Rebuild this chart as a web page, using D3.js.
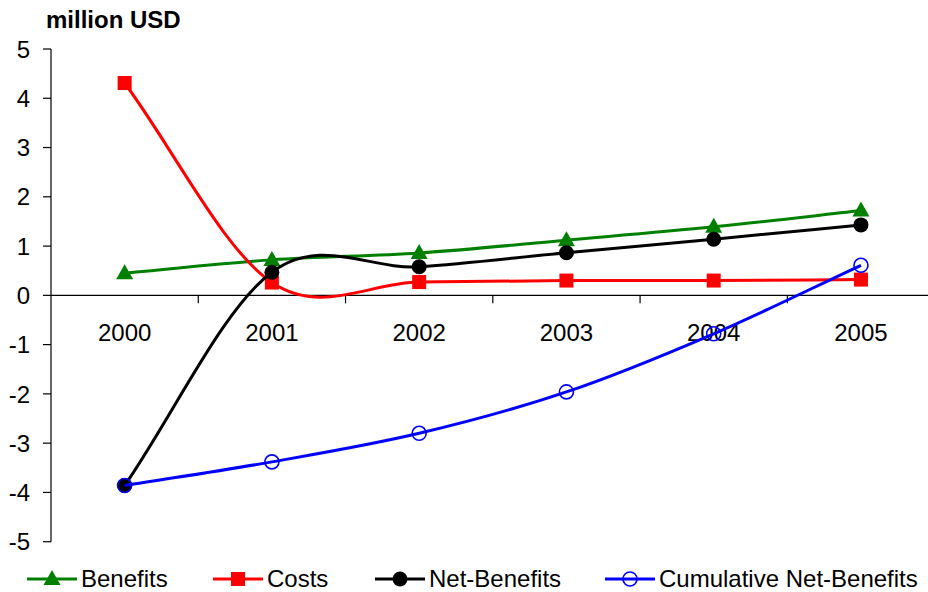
<!DOCTYPE html>
<html>
<head>
<meta charset="utf-8">
<script src="https://cdn.jsdelivr.net/npm/d3@7"></script>
<style>
  html, body { margin: 0; padding: 0; background: #fff; }
  svg { display: block; font-family: "Liberation Sans", Arial, sans-serif; }
</style>
</head>
<body>
<svg id="chart" width="928" height="592"></svg>
<script>
// Annual figures, million USD
const years = ["2000", "2001", "2002", "2003", "2004", "2005"];
const benefits = [0.45, 0.72, 0.86, 1.12, 1.39, 1.72];
const costs = [4.31, 0.26, 0.27, 0.30, 0.30, 0.32];
const netBenefits = [-3.86, 0.47, 0.58, 0.865, 1.14, 1.43];
const cumulativeNet = [-3.86, -3.38, -2.80, -1.96, -0.78, 0.61];
const yTicks = [5, 4, 3, 2, 1, 0, -1, -2, -3, -4, -5];
const unitLabel = "million USD";

const series = [
  { name: "Benefits", values: benefits, color: "#008000", marker: "triangle" },
  { name: "Costs", values: costs, color: "#ff0000", marker: "square" },
  { name: "Net-Benefits", values: netBenefits, color: "#000000", marker: "circle" },
  { name: "Cumulative Net-Benefits", values: cumulativeNet, color: "#0000ff", marker: "open" }
];

// Smoothed line curve: Bezier segments with central-difference tangents
// inside the series and one-sided tangents at both ends.
function SmoothCurve(context) { this._context = context; }
SmoothCurve.prototype = {
  areaStart() { this._line = 0; },
  areaEnd() { this._line = NaN; },
  lineStart() { this._pts = []; },
  point(px, py) { this._pts.push([+px, +py]); },
  lineEnd() {
    const p = this._pts, n = p.length, ctx = this._context;
    if (!n) return;
    ctx.moveTo(p[0][0], p[0][1]);
    if (n === 1) return;
    const tan = p.map((_, i) => {
      const a = p[Math.max(0, i - 1)], b = p[Math.min(n - 1, i + 1)];
      const k = (i === 0 || i === n - 1) ? 1 : 0.5;
      return [(b[0] - a[0]) * k, (b[1] - a[1]) * k];
    });
    for (let i = 0; i < n - 1; i++) {
      ctx.bezierCurveTo(
        p[i][0] + tan[i][0] / 3, p[i][1] + tan[i][1] / 3,
        p[i + 1][0] - tan[i + 1][0] / 3, p[i + 1][1] - tan[i + 1][1] / 3,
        p[i + 1][0], p[i + 1][1]);
    }
  }
};
const curveSmooth = context => new SmoothCurve(context);

const svg = d3.select("#chart");
const plot = { left: 51, right: 934.6, top: 49, bottom: 541.7 };

const x = d3.scaleBand().domain(years).range([plot.left, plot.right]).padding(0);
const y = d3.scaleLinear().domain([-5, 5]).range([plot.bottom, plot.top]);
const cx = d => x(d) + x.bandwidth() / 2;

// Unit caption
svg.append("text")
  .attr("x", 46).attr("y", 28)
  .attr("font-size", 24).attr("font-weight", "bold")
  .text(unitLabel);

// Value axis
const yAxis = svg.append("g");
yAxis.append("line")
  .attr("x1", plot.left).attr("x2", plot.left)
  .attr("y1", y(5)).attr("y2", y(-5))
  .attr("stroke", "#000").attr("stroke-width", 1.2);
yTicks.forEach(t => {
  yAxis.append("line")
    .attr("x1", plot.left - 8).attr("x2", plot.left)
    .attr("y1", y(t)).attr("y2", y(t))
    .attr("stroke", "#000").attr("stroke-width", 1.2);
  yAxis.append("text")
    .attr("x", 30).attr("y", y(t)).attr("dy", "0.36em")
    .attr("text-anchor", "end").attr("font-size", 24)
    .text(t);
});

// Category axis crossing at zero
const xAxis = svg.append("g");
xAxis.append("line")
  .attr("x1", plot.left).attr("x2", plot.right)
  .attr("y1", y(0)).attr("y2", y(0))
  .attr("stroke", "#000").attr("stroke-width", 1.2);
years.slice(1).forEach(yr => {
  xAxis.append("line")
    .attr("x1", x(yr)).attr("x2", x(yr))
    .attr("y1", y(0)).attr("y2", y(0) + 8)
    .attr("stroke", "#000").attr("stroke-width", 1.2);
});
years.forEach(yr => {
  xAxis.append("text")
    .attr("x", cx(yr)).attr("y", 341)
    .attr("text-anchor", "middle").attr("font-size", 24)
    .text(yr);
});

// Marker drawing shared by plot and legend
function drawMarker(g, kind, color, px, py) {
  if (kind === "triangle") {
    g.append("path")
      .attr("d", `M${px},${py - 9}L${px + 8.5},${py + 6}L${px - 8.5},${py + 6}Z`)
      .attr("fill", color);
  } else if (kind === "square") {
    g.append("rect")
      .attr("x", px - 7).attr("y", py - 7)
      .attr("width", 14).attr("height", 14)
      .attr("fill", color);
  } else if (kind === "circle") {
    g.append("circle").attr("cx", px).attr("cy", py).attr("r", 7.5).attr("fill", color);
  } else {
    g.append("circle").attr("cx", px).attr("cy", py).attr("r", 7)
      .attr("fill", "none").attr("stroke", color).attr("stroke-width", 1.6);
  }
}

const line = d3.line()
  .x((d, i) => cx(years[i]))
  .y(d => y(d))
  .curve(curveSmooth);

series.forEach(s => {
  const g = svg.append("g");
  g.append("path")
    .attr("d", line(s.values))
    .attr("fill", "none")
    .attr("stroke", s.color)
    .attr("stroke-width", 3)
    .attr("stroke-linejoin", "round");
  s.values.forEach((v, i) => drawMarker(g, s.marker, s.color, cx(years[i]), y(v)));
});

// Legend
const legendPos = [27, 213, 375, 605];
const legendY = 579;
series.forEach((s, i) => {
  const g = svg.append("g");
  const x0 = legendPos[i];
  g.append("line")
    .attr("x1", x0).attr("x2", x0 + 50)
    .attr("y1", legendY).attr("y2", legendY)
    .attr("stroke", s.color).attr("stroke-width", 3);
  drawMarker(g, s.marker, s.color, x0 + 25, legendY);
  g.append("text")
    .attr("x", x0 + 54).attr("y", legendY + 8)
    .attr("font-size", 24)
    .text(s.name);
});
</script>
</body>
</html>
